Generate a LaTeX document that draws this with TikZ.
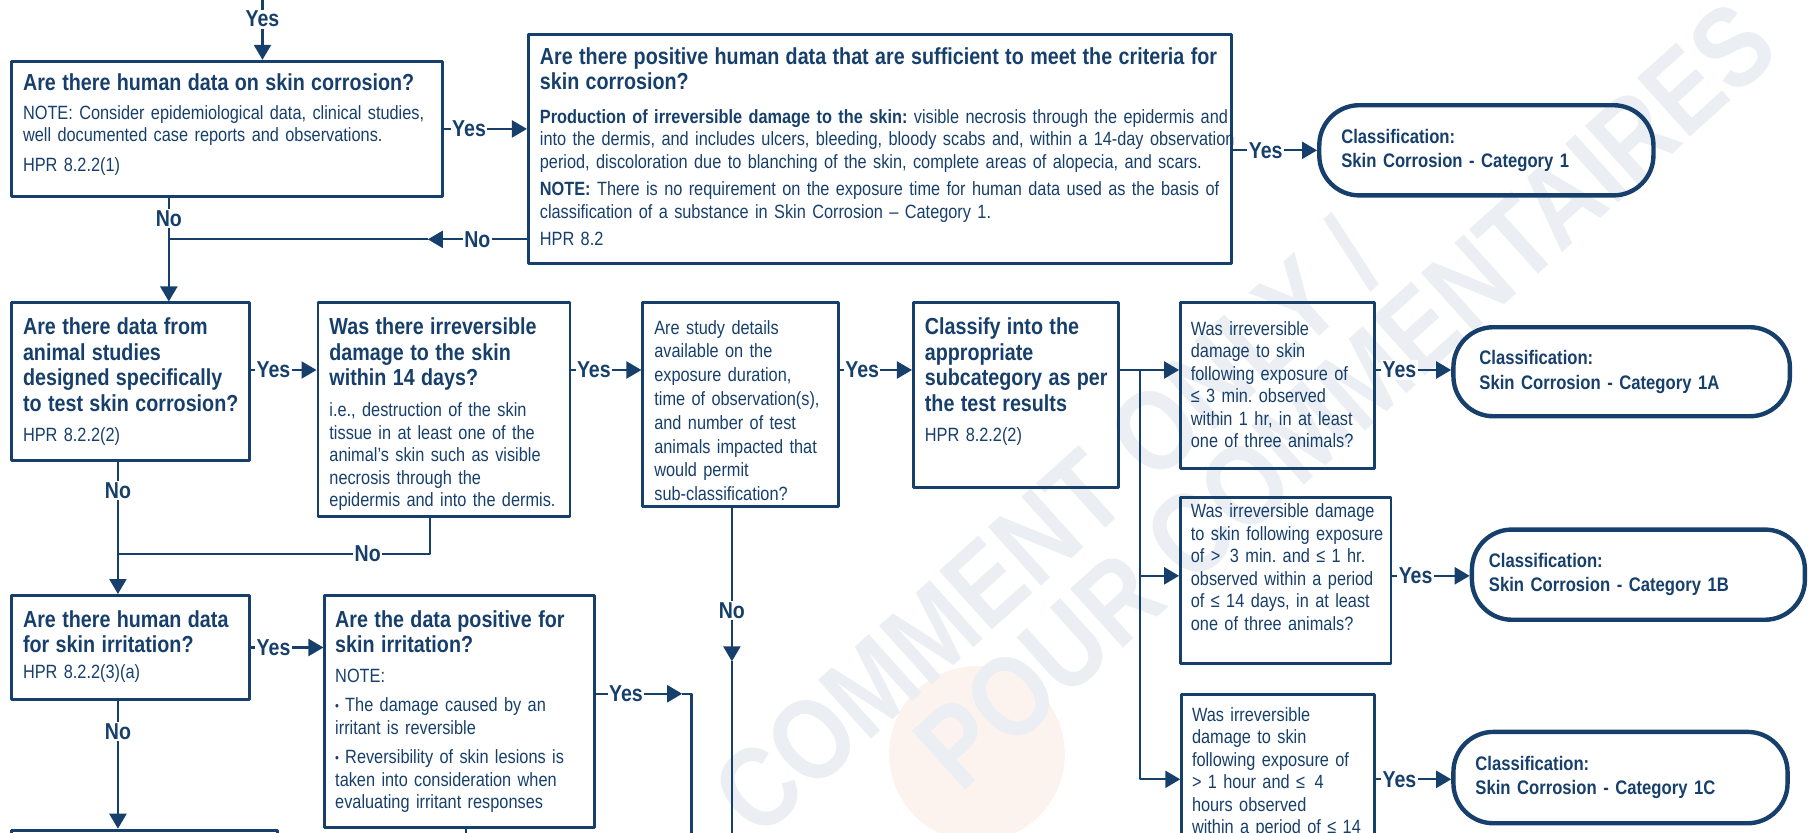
\documentclass[tikz,border=0pt]{standalone}
\usepackage{fontspec}
\setmainfont{Liberation Sans}[FakeStretch=0.85]
\usetikzlibrary{arrows.meta,fit}
\definecolor{navy}{HTML}{173F6B}
\definecolor{wmblue}{HTML}{EBEFF4}
\definecolor{wmorange}{HTML}{FDF3EE}
\frenchspacing
\newcommand{\qtitle}{\fontsize{23.2}{25.5}\selectfont\bfseries}
\newcommand{\qbody}{\fontsize{19.2}{22.5}\selectfont}
\newcommand{\qterm}{\fontsize{19.6}{24.5}\selectfont\bfseries}
\newcommand{\qlbl}{\fontsize{23}{23}\selectfont\bfseries}
\newcommand{\qwm}{\fontsize{115}{115}\selectfont\bfseries}
\newcommand{\qgap}{\par\vspace{7pt}}
\newcommand{\qdot}{\makebox[10pt][l]{\raisebox{1pt}{\fontsize{13}{13}\selectfont\textbullet}}}
\begin{document}
\begin{tikzpicture}[x=1.1563pt, y=-1.1563pt, line join=round, >={Triangle[length=15pt,width=17pt]},
	qbox/.style={draw=navy, line width=2.9pt, inner sep=0pt},
	term/.style={draw=navy, line width=4.4pt, inner sep=0pt, rounded corners=40pt},
	txt/.style={anchor=north west, inner sep=0pt, text width=720pt, align=left, text=navy, font=\qbody},
	ttxt/.style={anchor=west, inner sep=0pt, text width=400pt, align=left, text=navy, font=\qterm},
	link/.style={draw=navy, line width=2.3pt},
	lbl/.style={fill=white, text=navy, inner sep=1.5pt, font=\qlbl},
	wm/.style={anchor=west, inner sep=0pt, rotate=42, text=wmblue, font=\qwm}]
	\useasboundingbox (0,0) rectangle (1568,720);
	\clip (0,0) rectangle (1568,720);
	% watermark
	\fill[wmorange] (845,652) circle (76);
	\node[wm] (wm1) at (632,702) {COMMENT ONLY /};
	\node[wm] (wm2) at (808,662) {POUR COMMENTAIRES};
	% human data
	\node[qbox, fit={(10,53) (383,170)}] (b1) {};
	\node[txt] at ([shift={(11,12)}]b1.north west) {{\qtitle Are there human data on skin corrosion?\par}\vspace{6pt}
		NOTE: Consider epidemiological data, clinical studies,\\ well documented case reports and observations.\qgap
		HPR 8.2.2(1)};
	\node[qbox, fit={(457,30) (1065,228)}] (b2) {};
	\node[txt] at ([shift={(11,12)}]b2.north west) {{\qtitle Are there positive human data that are sufficient to meet the criteria for\\ skin corrosion?\par}\vspace{11pt}
		\textbf{Production of irreversible damage to the skin:} visible necrosis through the epidermis and\\ into the dermis, and includes ulcers, bleeding, bloody scabs and, within a 14-day observation\\ period, discoloration due to blanching of the skin, complete areas of alopecia, and scars.\par\vspace{5pt}
		\textbf{NOTE:} There is no requirement on the exposure time for human data used as the basis of\\ classification of a substance in Skin Corrosion -- Category 1.\par\vspace{5pt}
		HPR 8.2};
	\node[term, fit={(1141,91) (1430,169)}] (t1) {};
	\node[ttxt] at ([xshift=24pt]t1.west) {Classification:\\ Skin Corrosion - Category 1};
	% animal data
	\node[qbox, fit={(10,262) (216,398)}] (b3) {};
	\node[txt] at ([shift={(11,14)}]b3.north west) {{\qtitle Are there data from\\ animal studies\\ designed specifically\\ to test skin corrosion?\par}\vspace{7.5pt}
		HPR 8.2.2(2)};
	\node[qbox, fit={(275,262) (493,447)}] (b4) {};
	\node[txt] at ([shift={(11,14)}]b4.north west) {{\qtitle Was there irreversible\\ damage to the skin\\ within 14 days?\par}\vspace{8.5pt}
		i.e., destruction of the skin\\ tissue in at least one of the\\ animal's skin such as visible\\ necrosis through the\\ epidermis and into the dermis.};
	\node[qbox, fit={(556,262) (725,438)}] (b5) {};
	\node[txt, font=\fontsize{19.2}{23.8}\selectfont] at ([shift={(11,16)}]b5.north west) {Are study details\\ available on the\\ exposure duration,\\ time of observation(s),\\ and number of test\\ animals impacted that\\ would permit\\ sub-classification?};
	\node[qbox, fit={(790,262) (967,422)}] (b6) {};
	\node[txt] at ([shift={(11,14)}]b6.north west) {{\qtitle Classify into the\\ appropriate\\ subcategory as per\\ the test results\par}\vspace{7.5pt}
		HPR 8.2.2(2)};
	% sub-categories
	\node[qbox, fit={(1021,262) (1189,405)}] (b7) {};
	\node[txt] at ([shift={(10,17)}]b7.north west) {Was irreversible\\ damage to skin\\ following exposure of\\ ≤ 3 min. observed\\ within 1 hr, in at least\\ one of three animals?};
	\node[term, fit={(1257,283) (1548,360)}] (t1a) {};
	\node[ttxt] at ([xshift=28pt]t1a.west) {Classification:\\ Skin Corrosion - Category 1A};
	\node[qbox, fit={(1021,430) (1203,574)}] (b8) {};
	\node[txt] at ([shift={(10,7)}]b8.north west) {Was irreversible damage\\ to skin following exposure\\ of >\enspace 3 min. and ≤ 1 hr.\\ observed within a period\\ of ≤ 14 days, in at least\\ one of three animals?};
	\node[term, fit={(1273,458) (1561,536)}] (t1b) {};
	\node[ttxt] at ([xshift=19pt]t1b.west) {Classification:\\ Skin Corrosion - Category 1B};
	\node[qbox, fit={(1022,601) (1189,800)}] (b9) {};
	\node[txt] at ([shift={(10,12)}]b9.north west) {Was irreversible\\ damage to skin\\ following exposure of\\ > 1 hour and ≤\enspace 4\\ hours observed\\ within a period of ≤ 14};
	\node[term, fit={(1257,633) (1546,712)}] (t1c) {};
	\node[ttxt] at ([xshift=24pt]t1c.west) {Classification:\\ Skin Corrosion - Category 1C};
	% skin irritation
	\node[qbox, fit={(10,515) (216,605)}] (b10) {};
	\node[txt] at ([shift={(11,14)}]b10.north west) {{\qtitle Are there human data\\ for skin irritation?\par}\vspace{3pt}
		HPR 8.2.2(3)(a)};
	\node[qbox, fit={(281,515) (514,716)}] (b11) {};
	\node[txt] at ([shift={(10,14)}]b11.north west) {{\qtitle Are the data positive for\\ skin irritation?\par}\vspace{7pt}
		NOTE:\qgap
		\hangindent=10pt\hangafter=1\qdot The damage caused by an\\ irritant is reversible\qgap
		\hangindent=10pt\hangafter=1\qdot Reversibility of skin lesions is\\ taken into consideration when\\ evaluating irritant responses};
	\node[qbox, fit={(10,718) (240,800)}] (b12) {};
	% connectors
	\coordinate (top) at (227,0);
	\coordinate (j1) at (146,207);
	\coordinate (m1) at (370,207);
	\coordinate (j2) at (102,479);
	\coordinate (c4) at (372,0);
	\coordinate (r2) at (0,320);
	\coordinate (sp) at (986,320);
	\coordinate (r8) at (0,498);
	\coordinate (r9) at (0,674);
	\coordinate (r10) at (0,560);
	\coordinate (n5) at (633,572);
	\coordinate (e5) at (633,740);
	\coordinate (a11) at (590,600);
	\coordinate (c11) at (598,600);
	\coordinate (e11) at (598,740);
	\coordinate (e12) at (403,740);
	\draw[link,->] (top) -- node[lbl,pos=0.32]{Yes} (b1.north -| top);
	\draw[link,->] (b1.east) -- node[lbl,pos=0.3]{Yes} (b1.east -| b2.west);
	\draw[link,->] (b1.south -| j1) -- node[lbl,pos=0.2]{No} (b3.north -| j1);
	\draw[link,->] (b2.west |- j1) -- node[lbl,pos=0.5]{No} (m1);
	\draw[link] (m1) -- (j1);
	\draw[link,->] (b2.east |- t1.west) -- node[lbl,pos=0.39]{Yes} (t1.west);
	\draw[link,->] (b3.east |- r2) -- node[lbl,pos=0.34]{Yes} (b4.west |- r2);
	\draw[link,->] (b4.east |- r2) -- node[lbl,pos=0.32]{Yes} (b5.west |- r2);
	\draw[link,->] (b5.east |- r2) -- node[lbl,pos=0.31]{Yes} (b6.west |- r2);
	\draw[link] (b6.east |- r2) -- (sp);
	\draw[link,->] (sp) -- (b7.west |- r2);
	\draw[link,->] (sp) |- (b8.west |- r8);
	\draw[link,->] (sp) |- (b9.west |- r9);
	\draw[link,->] (b7.east |- r2) -- node[lbl,pos=0.31]{Yes} (t1a.west |- r2);
	\draw[link,->] (b8.east |- r8) -- node[lbl,pos=0.3]{Yes} (t1b.west |- r8);
	\draw[link,->] (b9.east |- r9) -- node[lbl,pos=0.31]{Yes} (t1c.west |- r9);
	\draw[link] (b4.south -| c4) |- node[lbl,pos=0.6]{No} (j2);
	\draw[link,->] (b3.south -| j2) -- node[lbl,pos=0.22]{No} (b10.north -| j2);
	\draw[link,->] (b5.south -| n5) -- node[lbl,pos=0.67]{No} (n5);
	\draw[link] (n5) -- (e5);
	\draw[link,->] (b10.east |- r10) -- node[lbl,pos=0.31]{Yes} (b11.west |- r10);
	\draw[link,->] (b10.south -| j2) -- node[lbl,pos=0.24]{No} (b12.north -| j2);
	\draw[link,->] (b11.east |- c11) -- node[lbl,pos=0.35]{Yes} (a11);
	\draw[link] (a11) -- (c11) -- (e11);
	\draw[link] (b11.south -| e12) -- (e12);
\end{tikzpicture}
\end{document}
